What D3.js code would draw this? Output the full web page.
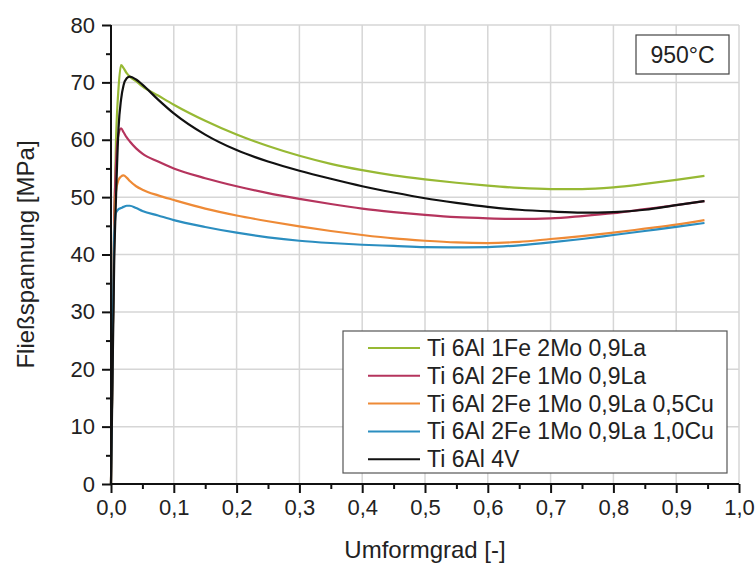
<!DOCTYPE html>
<html><head><meta charset="utf-8">
<script src="https://cdn.jsdelivr.net/npm/d3@7"></script>
<style>html,body{margin:0;padding:0;background:#fff;}svg{display:block;font-family:Arial,"Liberation Sans",sans-serif;}</style>
</head><body><svg id="c" width="755" height="563"></svg>
<script>
const strain = [0,0.002,0.005,0.008,0.012,0.016,0.02,0.025,0.03,0.04,0.05,0.075,0.1,0.15,0.2,0.25,0.3,0.35,0.4,0.45,0.5,0.55,0.6,0.65,0.7,0.75,0.8,0.85,0.9,0.945];
const green  = [0,18,45,60,69,73,72.5,71.6,71.0,70.2,69.3,67.7,66.1,63.3,60.9,58.9,57.2,55.8,54.7,53.8,53.1,52.5,52.0,51.6,51.4,51.4,51.7,52.3,53.0,53.7];
const red    = [0,18,45,56,61,62,61.3,60.4,59.7,58.5,57.6,56.2,55.0,53.3,51.9,50.7,49.7,48.8,48.0,47.4,46.9,46.5,46.3,46.2,46.3,46.7,47.2,47.9,48.6,49.3];
const orange = [0,18,43,51,53,53.6,53.8,53.4,52.8,51.9,51.3,50.3,49.5,48.0,46.8,45.8,44.9,44.1,43.4,42.8,42.4,42.1,42.0,42.2,42.7,43.2,43.8,44.5,45.2,46.0];
const blue   = [0,18,43,47.3,47.9,48.1,48.3,48.5,48.5,48.1,47.6,46.8,46.0,44.8,43.8,43.0,42.4,42.0,41.7,41.5,41.3,41.25,41.3,41.6,42.1,42.7,43.4,44.1,44.8,45.5];
const black  = [0,15,38,50,62,67,69.5,70.7,71.0,70.5,69.6,67.0,64.6,60.9,58.2,56.2,54.6,53.2,51.9,50.8,49.8,49.0,48.3,47.8,47.5,47.3,47.4,47.8,48.6,49.3];
const seriesNames = ["Ti 6Al 1Fe 2Mo 0,9La","Ti 6Al 2Fe 1Mo 0,9La","Ti 6Al 2Fe 1Mo 0,9La 0,5Cu","Ti 6Al 2Fe 1Mo 0,9La 1,0Cu","Ti 6Al 4V"];
const seriesColors = ["#97b934","#b5345d","#ee8a36","#2b8ec0","#111111"];
const seriesValues = [green, red, orange, blue, black];
const xTicks = [0,0.1,0.2,0.3,0.4,0.5,0.6,0.7,0.8,0.9,1.0];
const yTicks = [0,10,20,30,40,50,60,70,80];
const tempLabel = "950°C";

const svg = d3.select("#c");
const L=111, R=739, T=25, B=484;
const x = d3.scaleLinear().domain([0,1]).range([L,R]);
const y = d3.scaleLinear().domain([0,80]).range([B,T]);

// grid
const g = svg.append("g");
g.selectAll("line.gx").data(xTicks.slice(1)).enter().append("line")
  .attr("x1",d=>x(d)).attr("x2",d=>x(d)).attr("y1",T).attr("y2",B)
  .attr("stroke","#d6d6d6").attr("stroke-width",1.5);
g.selectAll("line.gy").data(yTicks.slice(1)).enter().append("line")
  .attr("x1",L).attr("x2",R).attr("y1",d=>y(d)).attr("y2",d=>y(d))
  .attr("stroke","#d6d6d6").attr("stroke-width",1.5);

// curves
const line = d3.line().x(d=>x(d[0])).y(d=>y(d[1])).curve(d3.curveMonotoneX);
seriesValues.forEach((vals,i)=>{
  svg.append("path").datum(strain.map((s,j)=>[s,vals[j]]))
    .attr("d",line).attr("fill","none").attr("stroke",seriesColors[i])
    .attr("stroke-width",2.2).attr("stroke-linejoin","round");
});

// axes
const xMinor = d3.range(0.05,1,0.1);
const yMinor = d3.range(5,80,10);
const xAxis = svg.append("g").attr("transform",`translate(0,${B})`)
  .call(d3.axisBottom(x).tickValues(xTicks).tickFormat(d=>d3.format(".1f")(d).replace(".",",")).tickSize(9).tickPadding(6));
const yAxis = svg.append("g").attr("transform",`translate(${L},0)`)
  .call(d3.axisLeft(y).tickValues(yTicks).tickFormat(d3.format("d")).tickSize(9).tickPadding(7));
svg.append("g").attr("transform",`translate(0,${B})`)
  .call(d3.axisBottom(x).tickValues(xMinor).tickFormat("").tickSize(5).tickSizeOuter(0))
  .select(".domain").remove();
svg.append("g").attr("transform",`translate(${L},0)`)
  .call(d3.axisLeft(y).tickValues(yMinor).tickFormat("").tickSize(5).tickSizeOuter(0))
  .select(".domain").remove();
[xAxis,yAxis].forEach(a=>{
  a.selectAll("text").attr("font-size",22).attr("fill","#222").attr("font-family","Arial, 'Liberation Sans', sans-serif");
});
svg.selectAll(".tick line").attr("stroke","#111").attr("stroke-width",2);
xAxis.select(".domain").remove(); yAxis.select(".domain").remove();
svg.append("line").attr("x1",L).attr("x2",R).attr("y1",B).attr("y2",B).attr("stroke","#111").attr("stroke-width",2);
svg.append("line").attr("x1",L).attr("x2",L).attr("y1",T).attr("y2",B).attr("stroke","#111").attr("stroke-width",2);

// axis titles
svg.append("text").attr("x",(L+R)/2).attr("y",558).attr("text-anchor","middle")
  .attr("font-size",24).attr("fill","#222").text("Umformgrad [-]");
svg.append("text").attr("transform",`translate(34,${(T+B)/2}) rotate(-90)`).attr("text-anchor","middle")
  .attr("font-size",24).attr("fill","#222").text("Fließspannung [MPa]");

// temperature box
svg.append("rect").attr("x",636).attr("y",35).attr("width",93).attr("height",39)
  .attr("fill","#fff").attr("stroke","#444").attr("stroke-width",1.2);
svg.append("text").attr("x",682.5).attr("y",63).attr("text-anchor","middle")
  .attr("font-size",23).attr("fill","#222").text(tempLabel);

// legend
const lg = svg.append("g");
lg.append("rect").attr("x",343).attr("y",331).attr("width",384).attr("height",142)
  .attr("fill","#fff").attr("stroke","#555").attr("stroke-width",1.2);
seriesNames.forEach((n,i)=>{
  const cy = 348 + i*27.8;
  lg.append("line").attr("x1",368).attr("x2",420).attr("y1",cy).attr("y2",cy)
    .attr("stroke",seriesColors[i]).attr("stroke-width",2);
  lg.append("text").attr("x",427).attr("y",cy+8).attr("font-size",23).attr("fill","#222").text(n);
});
</script></body></html>
